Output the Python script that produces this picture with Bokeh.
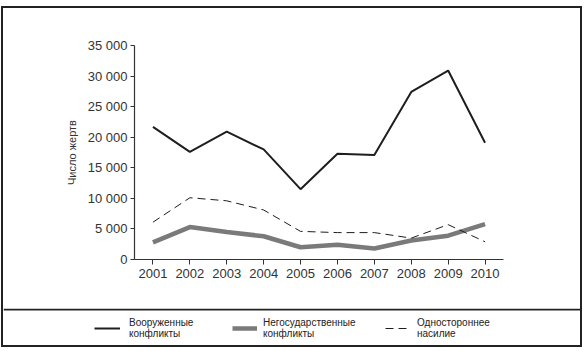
from bokeh.plotting import figure
from bokeh.layouts import column
from bokeh.models import FixedTicker, Legend, LegendItem, Range1d, Span
from bokeh.embed import file_html
from bokeh.resources import INLINE

years = [2001, 2002, 2003, 2004, 2005, 2006, 2007, 2008, 2009, 2010]
armed = [21700, 17600, 20900, 18000, 11500, 17300, 17100, 27400, 30900, 19100]
nonstate = [2800, 5300, 4500, 3800, 2000, 2400, 1800, 3100, 3900, 5800]
onesided = [6100, 10100, 9600, 8100, 4600, 4400, 4400, 3500, 5700, 2900]

y_ticks = [0, 5000, 10000, 15000, 20000, 25000, 30000, 35000]
y_tick_labels = ["0", "5 000", "10 000", "15 000", "20 000", "25 000", "30 000", "35 000"]
y_label = "Число жертв"
series_names = ["Вооруженные\nконфликты", "Негосударственные\nконфликты", "Одностороннее\nнасилие"]

FONT = "Liberation Sans"
IW = 577
styles = [
    dict(line_color="#1e1e1e", line_width=2),
    dict(line_color="#7a7a7a", line_width=4.5),
    dict(line_color="#1e1e1e", line_width=1, line_dash="8 5"),
]

p = figure(width=IW, height=300, output_backend="svg", toolbar_location=None,
           x_range=Range1d(2000.5, 2010.5), y_range=Range1d(0, 35000),
           min_border_left=131, min_border_right=77, min_border_top=37, min_border_bottom=49)
p.frame_align = False
p.outline_line_color = None
p.xgrid.visible = False
p.ygrid.visible = False

for vals, st in zip([armed, nonstate, onesided], styles):
    p.line(years, vals, **st)

for ax in (p.xaxis[0], p.yaxis[0]):
    ax.axis_line_color = "#333333"
    ax.axis_line_width = 1.2
    ax.major_tick_line_color = "#333333"
    ax.minor_tick_line_color = None
    ax.major_tick_in = 0
    ax.major_label_text_font = FONT
    ax.major_label_text_font_size = "13px"
    ax.major_label_text_color = "#333333"

p.xaxis.ticker = FixedTicker(ticks=years)
p.xaxis.major_tick_out = 5
p.xaxis.major_label_standoff = 4

p.yaxis.ticker = FixedTicker(ticks=y_ticks)
p.yaxis.major_label_overrides = {t: l for t, l in zip(y_ticks, y_tick_labels)}
p.yaxis.major_tick_out = 4
p.yaxis.major_label_standoff = 3
p.yaxis.axis_label = y_label
p.yaxis.axis_label_text_font = FONT
p.yaxis.axis_label_text_font_size = "11px"
p.yaxis.axis_label_text_font_style = "normal"
p.yaxis.axis_label_text_color = "#333333"
p.yaxis.axis_label_standoff = 7

# legend strip
pl = figure(width=IW, height=37, output_backend="svg", toolbar_location=None,
            x_range=Range1d(0, IW), y_range=Range1d(0, 37),
            x_axis_location=None, y_axis_location=None, min_border=0)
pl.frame_align = False
pl.outline_line_color = None
pl.xgrid.visible = False
pl.ygrid.visible = False
pl.add_layout(Span(location=36, dimension="width", line_color="#222222", line_width=2))

# legend proxies (series data lie outside this strip's ranges, so only the legend shows them)
legend_pos = [(91, 3), (229, 3), (382, 3)]
glyph_w = [26, 25, 22]
standoff = [9, 6, 10]
for vals, name, st, loc, gw, so in zip([armed, nonstate, onesided], series_names, styles,
                                       legend_pos, glyph_w, standoff):
    r = pl.line(years, vals, **st)
    lg = Legend(items=[LegendItem(label=name, renderers=[r])],
                location=loc, label_text_font=FONT, label_text_font_size="10px",
                label_text_line_height=1.4,
                label_text_color="#222222", glyph_width=gw, glyph_height=28,
                label_standoff=so, padding=0, margin=0, spacing=0,
                border_line_alpha=0, background_fill_alpha=0)
    pl.add_layout(lg, "center")

layout = column(p, pl, spacing=0, margin=(6, 0, 0, 1),
                styles={"border": "2px solid #222222"})

open("out.html", "w").write(file_html(layout, INLINE))
